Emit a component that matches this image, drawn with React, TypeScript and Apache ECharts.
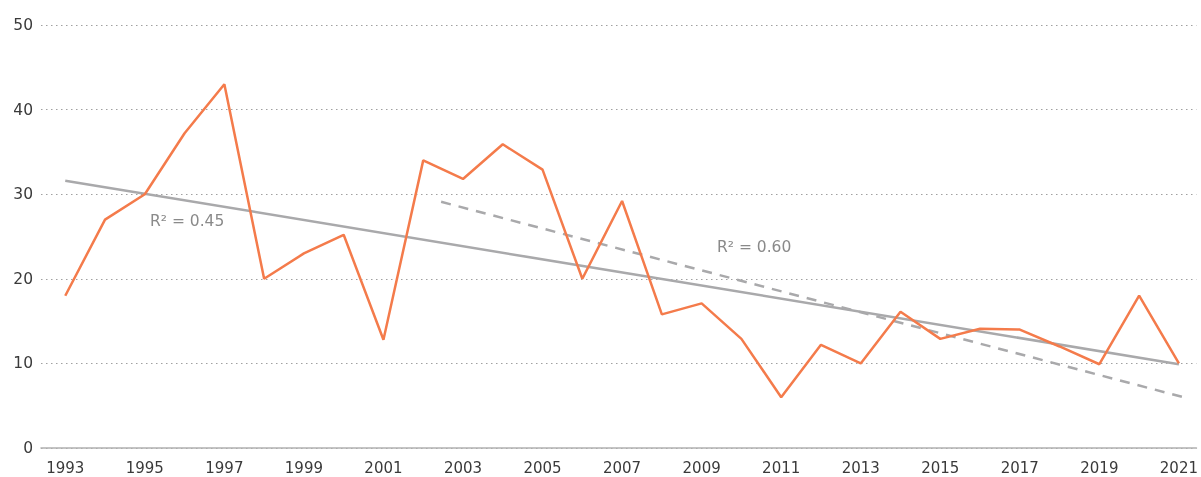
import React, { useEffect, useRef } from "react";
import * as echarts from "echarts";

const years = [1993, 1994, 1995, 1996, 1997, 1998, 1999, 2000, 2001, 2002, 2003, 2004, 2005, 2006, 2007, 2008, 2009, 2010, 2011, 2012, 2013, 2014, 2015, 2016, 2017, 2018, 2019, 2020, 2021];
const values = [18, 27, 30, 37.2, 43, 20, 23, 25.2, 12.8, 34, 31.8, 35.9, 32.9, 20, 29.2, 15.8, 17.1, 12.9, 6, 12.2, 10, 16.1, 12.9, 14.1, 14, 12, 9.9, 18, 10];
const trendAll = [[1993, 31.6], [2021, 9.9]];
const trendRecent = [[2002.45, 29.1], [2021.2, 5.9]];
const xLabels = [1993, 1995, 1997, 1999, 2001, 2003, 2005, 2007, 2009, 2011, 2013, 2015, 2017, 2019, 2021];
const r2Labels = ["R² = 0.45", "R² = 0.60"];

export default function App() {
  const ref = useRef<HTMLDivElement>(null);
  useEffect(() => {
    const chart = echarts.init(ref.current!, null, { renderer: "svg" });
    const font = "'DejaVu Sans', sans-serif";
    chart.setOption({
      animation: false,
      grid: { left: 41, right: 0, top: 25, bottom: 29 },
      xAxis: {
        type: "value",
        min: 1992.39,
        max: 2021.44,
        axisLine: { show: true, onZero: false, lineStyle: { color: "#b0b0b0", width: 1.5 } },
        axisTick: { show: false },
        splitLine: { show: false },
        axisLabel: {
          customValues: xLabels,
          formatter: (v: number) => String(Math.round(v)),
          color: "#3a3a3a",
          fontFamily: font,
          fontSize: 15,
          margin: 12,
        },
      },
      yAxis: {
        type: "value",
        min: 0,
        max: 50,
        interval: 10,
        axisLine: { show: false },
        axisTick: { show: false },
        splitLine: { show: true, lineStyle: { color: "#a0a0a0", type: [1.5, 3.5], width: 1 } },
        axisLabel: { color: "#3a3a3a", fontFamily: font, fontSize: 15.5, margin: 8 },
      },
      series: [
        {
          type: "line",
          data: trendAll,
          symbol: "none",
          lineStyle: { color: "#a9a9ab", width: 2.5 },
          z: 2,
        },
        {
          type: "line",
          data: trendRecent,
          symbol: "none",
          lineStyle: { color: "#a9a9ab", width: 2.5, type: [10, 8] },
          z: 2,
        },
        {
          type: "line",
          data: years.map((y, i) => [y, values[i]]),
          symbol: "none",
          lineStyle: { color: "#f47b4b", width: 2.5 },
          z: 3,
        },
      ],
      graphic: [
        {
          type: "text",
          left: 150,
          top: 213,
          style: { text: r2Labels[0], fill: "#8a8a8a", font: "15.5px 'DejaVu Sans', sans-serif" },
        },
        {
          type: "text",
          left: 717,
          top: 239,
          style: { text: r2Labels[1], fill: "#8a8a8a", font: "15.5px 'DejaVu Sans', sans-serif" },
        },
      ],
    });
    return () => chart.dispose();
  }, []);
  return <div ref={ref} style={{ position: "fixed", left: 0, top: 0, width: 1201, height: 477 }} />;
}
